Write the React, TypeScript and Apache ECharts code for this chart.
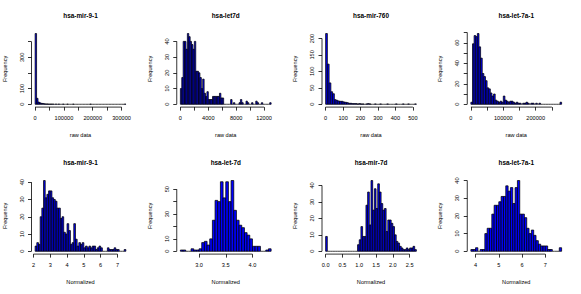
import React, { useEffect, useRef } from "react";
import * as echarts from "echarts";

// ---------- data ----------
const titles = [
  "hsa-mir-9-1", "hsa-let7d", "hsa-mir-760", "hsa-let-7a-1",
  "hsa-mir-9-1", "hsa-let-7d", "hsa-mir-7d", "hsa-let-7a-1",
];
const xNames = ["raw data", "raw data", "raw data", "raw data", "Normalized", "Normalized", "Normalized", "Normalized"];

// bin start and bin width of each histogram
const binStarts = [0, 0, 0, 0, 2.1, 2.65, 0, 3.8];
const binWidths = [5000, 200, 10, 5000, 0.1, 0.05, 0.05, 0.1];

const mir91RawCounts = [452, 38, 14, 9, 6, 5, 3, 2, 2, 1, 1, 1, 1, 0, 1, 0, 1, 0, 0, 1, 0, 0, 1, 0, 0, 0, 1, 0, 0, 0, 0, 0, 0, 0, 0, 0, 0, 0, 1, 0, 0, 0, 0, 0, 0, 0, 0, 0, 0, 0, 0, 0, 0, 0, 0, 0, 0, 0, 0, 0, 0, 0, 1];
const let7dRawCounts = [10, 17, 40, 40, 35, 45, 43, 40, 38, 35, 40, 21, 21, 20, 17, 10, 16, 7, 5, 8, 3, 3, 3, 5, 5, 5, 5, 5, 7, 4, 4, 0, 0, 0, 0, 0, 3, 0, 1, 0, 0, 0, 1, 3, 1, 0, 0, 2, 1, 0, 0, 1, 0, 0, 2, 1, 0, 0, 1, 0, 0, 0, 0, 0, 1];
const mir760RawCounts = [215, 122, 65, 38, 32, 14, 12, 10, 9, 9, 7, 6, 5, 3, 3, 2, 2, 2, 1, 2, 1, 1, 0, 1, 2, 1, 0, 0, 1, 0, 0, 1, 0, 0, 0, 1, 0, 0, 0, 0, 1, 0, 0, 0, 1, 0, 0, 1, 0, 0, 0, 1];
const let7a1RawCounts = [2, 59, 67, 66, 69, 56, 45, 30, 27, 23, 16, 15, 11, 8, 10, 4, 3, 2, 3, 2, 8, 4, 3, 2, 3, 3, 2, 1, 2, 1, 1, 0, 1, 1, 2, 1, 0, 1, 1, 0, 1, 0, 1, 0, 0, 0, 0, 0, 0, 0, 0, 0, 0, 0, 0, 2];
const mir91NormCounts = [3, 5, 4, 20, 25, 41, 31, 33, 35, 35, 31, 30, 29, 25, 25, 19, 20, 11, 10, 16, 12, 4, 5, 16, 7, 3, 5, 4, 5, 2, 3, 2, 3, 2, 3, 3, 1, 2, 3, 2, 0, 0, 0, 2, 1, 1, 1, 2, 1, 1, 0, 0, 0, 1];
const let7dNormCounts = [1, 1, 0, 0, 2, 1, 1, 2, 7, 8, 5, 10, 25, 41, 40, 56, 43, 56, 40, 57, 33, 25, 21, 19, 15, 13, 10, 4, 4, 4, 0, 0, 1, 2];
const mir7dNormCounts = [9, 0, 0, 0, 0, 0, 0, 0, 0, 0, 0, 0, 0, 0, 0, 0, 0, 0, 0, 4, 7, 15, 9, 9, 28, 36, 16, 43, 25, 38, 26, 41, 36, 29, 25, 26, 12, 19, 19, 17, 15, 10, 6, 5, 3, 2, 1, 1, 2, 1, 2, 2, 3, 1];
const let7a1NormCounts = [1, 1, 2, 0, 1, 1, 10, 13, 13, 21, 26, 26, 28, 31, 31, 37, 34, 36, 27, 36, 40, 21, 21, 19, 13, 10, 12, 9, 6, 4, 3, 3, 3, 1, 1, 0, 0, 0, 2];
const allCounts = [mir91RawCounts, let7dRawCounts, mir760RawCounts, let7a1RawCounts, mir91NormCounts, let7dNormCounts, mir7dNormCounts, let7a1NormCounts];

// axis ticks and the ticks that carry a label
const xTicks = [
  [0, 50000, 100000, 150000, 200000, 250000, 300000],
  [0, 2000, 4000, 6000, 8000, 10000, 12000],
  [0, 100, 200, 300, 400, 500],
  [0, 50000, 100000, 150000, 200000, 250000],
  [2, 3, 4, 5, 6, 7],
  [3.0, 3.5, 4.0],
  [0, 0.5, 1.0, 1.5, 2.0, 2.5],
  [4, 5, 6, 7],
];
const xLabels = [
  [0, 100000, 200000, 300000],
  [0, 4000, 8000, 12000],
  [0, 100, 200, 300, 400, 500],
  [0, 100000, 200000],
  [2, 3, 4, 5, 6, 7],
  [3.0, 3.5, 4.0],
  [0, 0.5, 1.0, 1.5, 2.0, 2.5],
  [4, 5, 6, 7],
];
const xDecimals = [0, 0, 0, 0, 0, 1, 1, 0];
const yTicks = [
  [0, 100, 200, 300, 400],
  [0, 10, 20, 30, 40],
  [0, 50, 100, 150, 200],
  [0, 10, 20, 30, 40, 50, 60, 70],
  [0, 10, 20, 30, 40],
  [0, 10, 20, 30, 40, 50],
  [0, 10, 20, 30, 40],
  [0, 10, 20, 30, 40],
];
const yLabels = [
  [0, 100, 300],
  [0, 10, 20, 30, 40],
  [0, 50, 100, 150, 200],
  [0, 20, 40, 60],
  [0, 10, 20, 30, 40],
  [0, 10, 30, 50],
  [0, 10, 20, 30, 40],
  [0, 10, 20, 30, 40],
];

// ---------- layout ----------
const W = 581;
const H = 294;
const PANEL_W = W / 4;
const PANEL_H = H / 2;
const PLOT_L = 31.5;
const PLOT_W = 98;
const PLOT_T = 30.7;
const PLOT_H = 76.4;
const FONT = "'Liberation Sans', Arial, Helvetica, sans-serif";
const TICK_FONT = 5.6;
const TITLE_FONT = 6.4;
const LW = 0.8;

function buildOption() {
  const grid: any[] = [];
  const xAxis: any[] = [];
  const yAxis: any[] = [];
  const series: any[] = [];
  const graphic: any[] = [];

  for (let i = 0; i < 8; i++) {
    const col = i % 4;
    const row = Math.floor(i / 4);
    const counts = allCounts[i];
    const start = binStarts[i];
    const bw = binWidths[i];
    const end = start + counts.length * bw;
    const xr = end - start;
    const xMin = start - 0.04 * xr;
    const xMax = end + 0.04 * xr;
    const yTop = Math.max(...counts);
    const yMin = -0.04 * yTop;
    const yMax = 1.04 * yTop;
    const dec = xDecimals[i];
    const gx = col * PANEL_W + PLOT_L;
    const gy = row * PANEL_H + PLOT_T;

    grid.push({ left: gx, top: gy, width: PLOT_W, height: PLOT_H });

    xAxis.push({
      gridIndex: i,
      type: "value",
      min: xMin,
      max: xMax,
      axisLine: { show: false, onZero: false },
      splitLine: { show: false },
      axisTick: {
        show: true,
        inside: false,
        length: 3.5,
        customValues: xTicks[i],
        lineStyle: { color: "#000", width: LW },
      },
      axisLabel: {
        customValues: xLabels[i],
        formatter: (v: number) => v.toFixed(dec),
        fontSize: TICK_FONT,
        fontFamily: FONT,
        color: "#000",
        margin: 7.5,
      },
      name: xNames[i],
      nameLocation: "middle",
      nameGap: 24.5,
      nameTextStyle: { fontSize: TICK_FONT, fontFamily: FONT, color: "#000" },
    });

    yAxis.push({
      gridIndex: i,
      type: "value",
      min: yMin,
      max: yMax,
      axisLine: { show: false, onZero: false },
      splitLine: { show: false },
      axisTick: {
        show: true,
        inside: false,
        length: 3.5,
        customValues: yTicks[i],
        lineStyle: { color: "#000", width: LW },
      },
      axisLabel: {
        customValues: yLabels[i],
        formatter: (v: number) => String(Math.round(v)),
        fontSize: TICK_FONT,
        fontFamily: FONT,
        color: "#000",
        rotate: 90,
        margin: 7,
      },
      name: "Frequency",
      nameLocation: "middle",
      nameRotate: 90,
      nameGap: 24,
      nameTextStyle: { fontSize: TICK_FONT, fontFamily: FONT, color: "#000" },
    });

    series.push({
      type: "custom",
      xAxisIndex: i,
      yAxisIndex: i,
      clip: false,
      silent: true,
      data: counts.map((c, k) => [start + k * bw, start + (k + 1) * bw, c]),
      encode: { x: [0, 1], y: 2 },
      renderItem: (_p: any, api: any) => {
        const x0 = api.value(0);
        const x1 = api.value(1);
        const c = api.value(2);
        const a = api.coord([x0, c]);
        const b = api.coord([x1, 0]);
        if (c === 0) {
          return {
            type: "line",
            shape: { x1: a[0], y1: b[1], x2: b[0], y2: b[1] },
            style: { stroke: "#000", lineWidth: 0.75 },
          };
        }
        return {
          type: "rect",
          shape: { x: a[0], y: a[1], width: b[0] - a[0], height: b[1] - a[1] },
          style: { fill: "#0000ff", stroke: "#000", lineWidth: 0.75 },
        };
      },
    });

    const xt = xTicks[i];
    const yt = yTicks[i];
    series.push({
      type: "custom",
      xAxisIndex: i,
      yAxisIndex: i,
      clip: false,
      silent: true,
      data: [[xt[0], 0]],
      renderItem: (_p: any, api: any) => {
        const a = api.coord([xt[0], yMin]);
        const b = api.coord([xt[xt.length - 1], yMin]);
        const c = api.coord([xMin, yt[0]]);
        const d = api.coord([xMin, yt[yt.length - 1]]);
        return {
          type: "group",
          children: [
            { type: "line", shape: { x1: a[0], y1: a[1], x2: b[0], y2: b[1] }, style: { stroke: "#000", lineWidth: LW } },
            { type: "line", shape: { x1: c[0], y1: c[1], x2: d[0], y2: d[1] }, style: { stroke: "#000", lineWidth: LW } },
          ],
        };
      },
    });

    graphic.push({
      type: "text",
      x: gx + PLOT_W / 2,
      y: row * PANEL_H + 15.7,
      style: {
        text: titles[i],
        fontSize: TITLE_FONT,
        fontWeight: "bold",
        fontFamily: FONT,
        fill: "#000",
        align: "center",
        verticalAlign: "middle",
        textAlign: "center",
        textVerticalAlign: "middle",
      },
    });
  }

  return {
    animation: false,
    backgroundColor: "#ffffff",
    grid,
    xAxis,
    yAxis,
    series,
    graphic,
  };
}

export default function App() {
  const ref = useRef<HTMLDivElement | null>(null);
  useEffect(() => {
    if (!ref.current) return;
    const chart = echarts.init(ref.current, undefined, { renderer: "svg", width: W, height: H });
    chart.setOption(buildOption() as any);
    return () => chart.dispose();
  }, []);
  return <div ref={ref} style={{ position: "absolute", left: 0, top: 0, width: W, height: H }} />;
}
